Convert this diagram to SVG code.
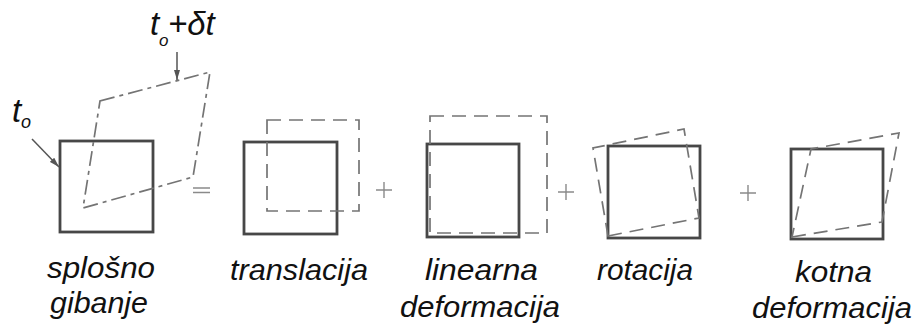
<svg xmlns="http://www.w3.org/2000/svg" width="917" height="327" viewBox="0 0 917 327">
<style>
.solid{fill:none;stroke:#474747;stroke-width:2.8;stroke-linejoin:miter}
.dash{fill:none;stroke:#747474;stroke-width:1.7;stroke-dasharray:14 8}
.dashdot{fill:none;stroke:#747474;stroke-width:1.7;stroke-dasharray:15 5 4 5}
.op{fill:none;stroke:#8a8a8a;stroke-width:1.4}
.lbl{font-family:"Liberation Sans",Arial,sans-serif;font-style:italic;font-size:30px;fill:#111}
.sym{font-family:"Liberation Sans",Arial,sans-serif;font-style:italic;fill:#111}
.arr{fill:none;stroke:#555;stroke-width:1.5}
</style>
<defs>
<marker id="ah" viewBox="0 0 10 6" refX="10" refY="3" markerWidth="10" markerHeight="6" markerUnits="userSpaceOnUse" orient="auto">
<path d="M0,0 L10,3 L0,6 Z" fill="#555"/>
</marker>
</defs>
<rect width="917" height="327" fill="#fff"/>
<g id="splosno">
<rect class="solid" x="60" y="141" width="93" height="91"/>
<polygon class="dashdot" points="100,101 210,72 193,177 83,208"/>
<text class="sym" x="12" y="122" font-size="33">t<tspan x="21" y="128" font-size="18">o</tspan></text>
<text class="sym" x="150" y="35" font-size="33">t<tspan x="159" y="46" font-size="17">o</tspan></text>
<text class="sym" x="168" y="35" font-size="33">+δt</text>
<text class="lbl" x="47" y="278" textLength="108" lengthAdjust="spacingAndGlyphs">splošno</text>
<text class="lbl" x="50" y="313" textLength="98" lengthAdjust="spacingAndGlyphs">gibanje</text>
</g>
<g id="translacija">
<rect class="solid" x="244" y="142" width="93" height="92"/>
<rect class="dash" x="267" y="120" width="92" height="91"/>
<text class="lbl" x="230" y="280" textLength="138" lengthAdjust="spacingAndGlyphs">translacija</text>
</g>
<g id="linearna">
<rect class="solid" x="427" y="144" width="92" height="93"/>
<rect class="dash" x="430" y="116" width="117" height="117"/>
<text class="lbl" x="425" y="280" textLength="113" lengthAdjust="spacingAndGlyphs">linearna</text>
<text class="lbl" x="400" y="317" textLength="160" lengthAdjust="spacingAndGlyphs">deformacija</text>
</g>
<g id="rotacija">
<rect class="solid" x="608" y="146" width="92" height="92"/>
<polygon class="dash" points="608,236 699,218 684,129 593,148"/>
<text class="lbl" x="597" y="280" textLength="96" lengthAdjust="spacingAndGlyphs">rotacija</text>
</g>
<g id="kotna">
<rect class="solid" x="791" y="149" width="92" height="90"/>
<polygon class="dash" points="792,237 882,222 899,133 811,149"/>
<text class="lbl" x="795" y="282" textLength="77" lengthAdjust="spacingAndGlyphs">kotna</text>
<text class="lbl" x="752" y="318" textLength="160" lengthAdjust="spacingAndGlyphs">deformacija</text>
</g>
<g id="connectors">
<line class="arr" x1="32" y1="139" x2="59" y2="167" marker-end="url(#ah)"/>
<line class="arr" x1="177" y1="52" x2="177" y2="80" marker-end="url(#ah)"/>
<path class="op" d="M193,188 H210 M193,192.5 H210"/>
<path class="op" d="M376,190 H392 M384,182 V198"/>
<path class="op" d="M558,192 H574 M566,184 V200"/>
<path class="op" d="M740,193 H756 M748,185 V201"/>
</g>
</svg>
